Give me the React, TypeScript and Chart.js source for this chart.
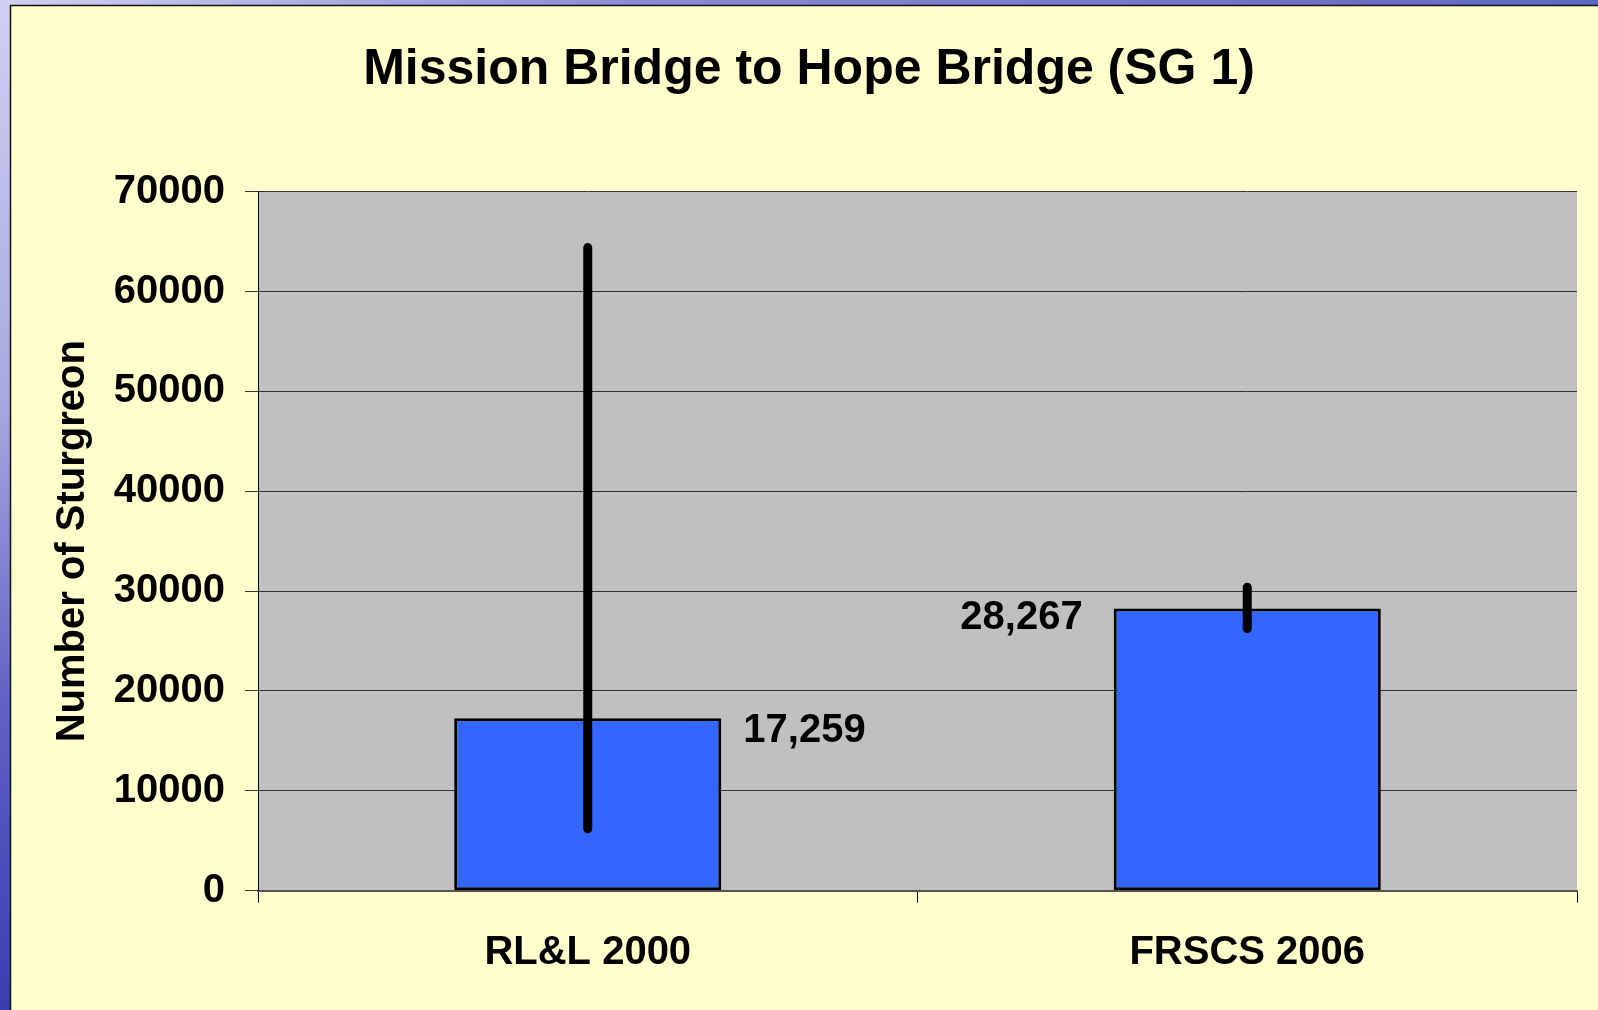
import React, { useEffect, useRef } from 'react';
import { Chart, registerables } from 'chart.js';

Chart.register(...registerables);

const chartTitle = 'Mission Bridge to Hope Bridge (SG 1)';
const yAxisTitle = 'Number of Sturgreon';
const categories = ['RL&L 2000', 'FRSCS 2006'];
const estimates = [17259, 28267];
const errorLow = [6200, 26250];
const errorHigh = [64400, 30400];
const yTicks = [0, 10000, 20000, 30000, 40000, 50000, 60000, 70000];

const W = 1598;
const H = 1010;
const FONT = '"Liberation Sans", Arial, Helvetica, sans-serif';

function withCommas(n: number): string {
  const s = String(Math.round(n));
  return s.replace(/\B(?=(\d{3})+(?!\d))/g, ',');
}

const backgroundPlugin = {
  id: 'slideBackground',
  beforeDraw(chart: any) {
    const { ctx, chartArea: a } = chart;
    ctx.save();
    let g = ctx.createLinearGradient(0, 0, W, 0);
    g.addColorStop(0, '#d0d0f2');
    g.addColorStop(0.4, '#8a8ad6');
    g.addColorStop(1, '#6464c4');
    ctx.fillStyle = g;
    ctx.fillRect(0, 0, W, 6);
    g = ctx.createLinearGradient(0, 0, 0, H);
    g.addColorStop(0, '#d0d0f2');
    g.addColorStop(0.4, '#a8a8e0');
    g.addColorStop(0.7, '#6060c4');
    g.addColorStop(1, '#3c3cb0');
    ctx.fillStyle = g;
    ctx.fillRect(0, 0, 10, H);
    ctx.fillStyle = '#FFFFCC';
    ctx.fillRect(10, 5, W - 10, H - 5);
    ctx.strokeStyle = '#111';
    ctx.lineWidth = 1.5;
    ctx.beginPath();
    ctx.moveTo(10.5, H);
    ctx.lineTo(10.5, 5.5);
    ctx.lineTo(W, 5.5);
    ctx.stroke();
    ctx.fillStyle = '#C0C0C0';
    ctx.fillRect(a.left, a.top, a.right - a.left, a.bottom - a.top);
    ctx.restore();
  },
};

const errorBarPlugin = {
  id: 'errorBarsAndLabels',
  afterDatasetsDraw(chart: any) {
    const { ctx } = chart;
    const meta = chart.getDatasetMeta(0);
    const y = chart.scales.y;
    ctx.save();
    ctx.strokeStyle = '#000';
    ctx.lineWidth = 9;
    ctx.lineCap = 'round';
    meta.data.forEach((bar: any, i: number) => {
      ctx.beginPath();
      ctx.moveTo(bar.x, y.getPixelForValue(errorLow[i]));
      ctx.lineTo(bar.x, y.getPixelForValue(errorHigh[i]));
      ctx.stroke();
    });
    ctx.font = `bold 40px ${FONT}`;
    ctx.fillStyle = '#000';
    ctx.textBaseline = 'middle';
    meta.data.forEach((bar: any, i: number) => {
      const text = withCommas(estimates[i]);
      const half = bar.width / 2;
      if (i === 0) {
        ctx.textAlign = 'left';
        ctx.fillText(text, bar.x + half + 22, bar.y + 13);
      } else {
        ctx.textAlign = 'right';
        ctx.fillText(text, bar.x - half - 31, bar.y + 10);
      }
    });
    ctx.restore();
  },
};

export default function App() {
  const canvasRef = useRef<HTMLCanvasElement | null>(null);

  useEffect(() => {
    if (!canvasRef.current) return;
    Chart.defaults.font.family = FONT;
    const chart = new Chart(canvasRef.current, {
      type: 'bar',
      data: {
        labels: categories,
        datasets: [
          {
            data: estimates,
            backgroundColor: '#3366FF',
            borderColor: '#000',
            borderWidth: 3,
            borderSkipped: false,
            barPercentage: 0.405,
            categoryPercentage: 1.0,
          },
        ],
      },
      options: {
        responsive: false,
        animation: false,
        devicePixelRatio: 1,
        layout: { padding: { left: 41, right: 21, top: 5, bottom: 0 } },
        plugins: {
          legend: { display: false },
          tooltip: { enabled: false },
          title: {
            display: true,
            text: chartTitle,
            color: '#000',
            font: { size: 50, weight: 'bold' },
            padding: { top: 35, bottom: 91.7 },
          },
        },
        scales: {
          x: {
            type: 'category',
            offset: true,
            grid: {
              offset: true,
              drawOnChartArea: false,
              color: '#000',
              tickLength: 12,
              lineWidth: 1,
            },
            border: { color: '#555', width: 2 },
            ticks: {
              color: '#000',
              font: { size: 40, weight: 'bold' },
              padding: 26,
              maxRotation: 0,
              autoSkip: false,
            },
            afterFit: (s: any) => {
              s.height = 119.3;
            },
          },
          y: {
            min: 0,
            max: 70000,
            afterBuildTicks: (s: any) => {
              s.ticks = yTicks.map((v) => ({ value: v }));
            },
            ticks: {
              callback: (v: any) => String(v),
              color: '#000',
              font: { size: 40, weight: 'bold' },
              padding: 20,
            },
            grid: { color: '#333', tickLength: 13, lineWidth: 1 },
            border: { color: '#000', width: 1 },
            title: {
              display: true,
              text: yAxisTitle,
              color: '#000',
              font: { size: 40, weight: 'bold' },
              padding: { top: 8, bottom: 4 },
            },
            afterFit: (s: any) => {
              s.width = 217;
            },
          },
        },
      },
      plugins: [backgroundPlugin, errorBarPlugin],
    });
    return () => chart.destroy();
  }, []);

  return (
    <div style={{ position: 'fixed', left: 0, top: 0, width: W, height: H, overflow: 'hidden' }}>
      <canvas ref={canvasRef} width={W} height={H} style={{ display: 'block', width: W, height: H }} />
    </div>
  );
}
